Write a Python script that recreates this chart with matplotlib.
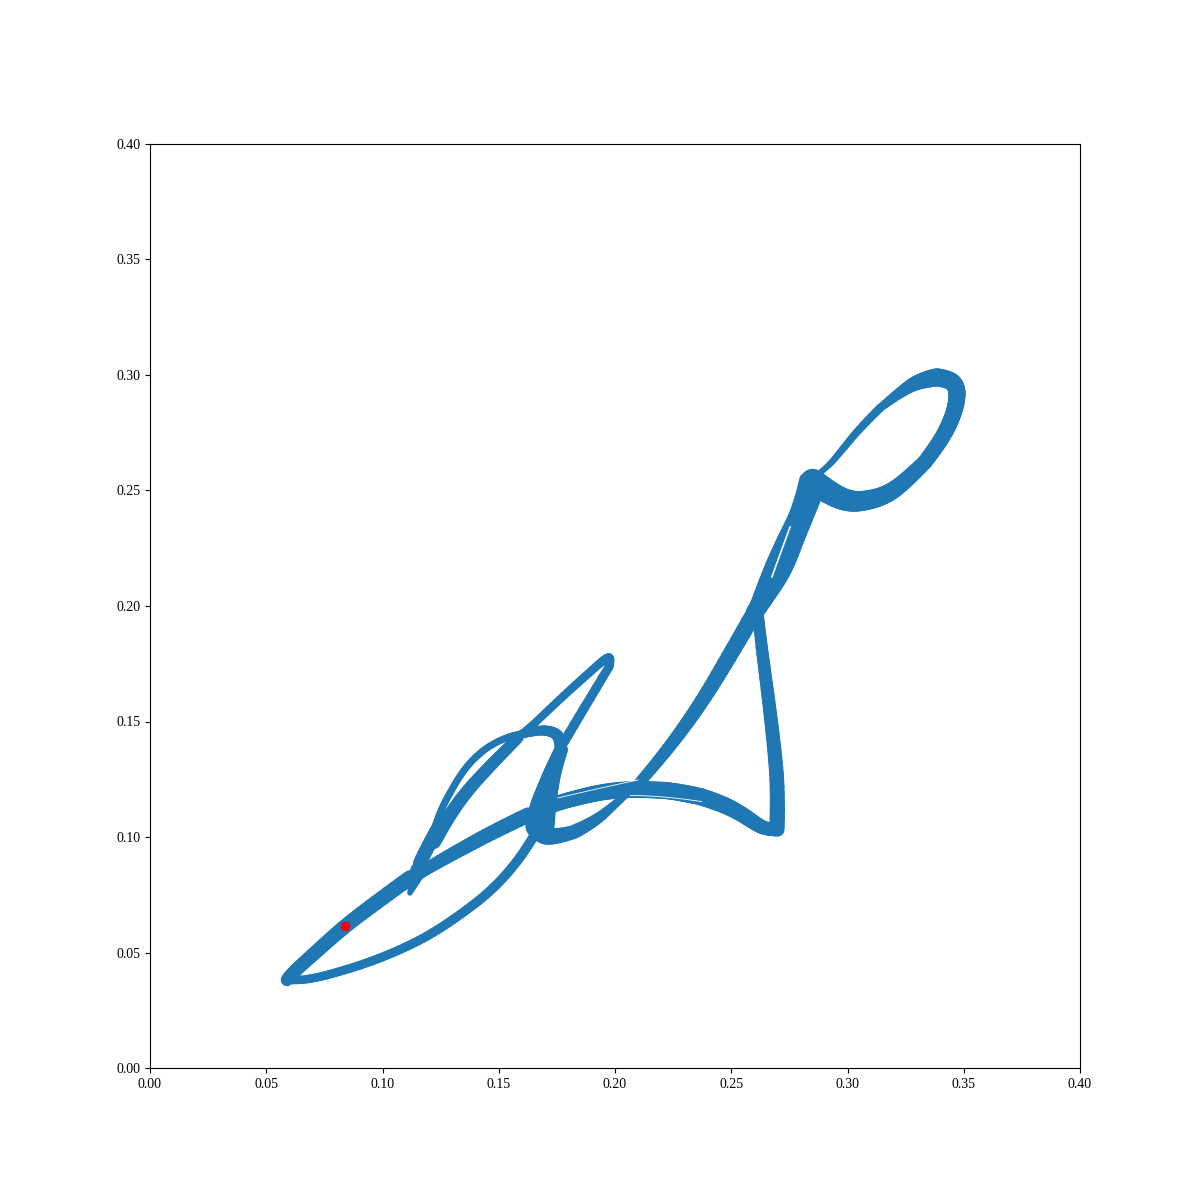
import numpy as np
import matplotlib
matplotlib.use('Agg')
import matplotlib.pyplot as plt
from matplotlib.collections import LineCollection
from matplotlib.ticker import MultipleLocator

plt.rcParams['font.family'] = ['Liberation Serif', 'DejaVu Serif']
plt.rcParams['font.size'] = 10

# traced strands of the orbit
low_x = [0.1118, 0.0981, 0.0839, 0.0723, 0.0637, 0.0598, 0.0589]
low_y = [0.0823, 0.0723, 0.0615, 0.0511, 0.0433, 0.0394, 0.0381]
under_x = [0.0589, 0.0645, 0.0731, 0.0839, 0.0946, 0.1075, 0.1204, 0.1333, 0.1462, 0.1570, 0.1656, 0.1690]
under_y = [0.0381, 0.0379, 0.0394, 0.0424, 0.0459, 0.0511, 0.0576, 0.0662, 0.0762, 0.0879, 0.1009, 0.1070]
mid_x = [0.1626, 0.1475, 0.1333, 0.1217, 0.1148, 0.1118]
mid_y = [0.1095, 0.1022, 0.0944, 0.0879, 0.0835, 0.0815]
cusp_x = [0.1153, 0.1135, 0.1118]
cusp_y = [0.0857, 0.0805, 0.0758]

base_x = [0.1161, 0.1195, 0.1240]
base_y = [0.0887, 0.0960, 0.1040]
leaf_out_x = [0.1196, 0.1225, 0.1247, 0.1273, 0.1329, 0.1385, 0.1462, 0.1561, 0.1600]
leaf_out_y = [0.0978, 0.1040, 0.1104, 0.1160, 0.1260, 0.1333, 0.1398, 0.1442, 0.1446]
leaf_in_x = [0.1222, 0.1269, 0.1355, 0.1467, 0.1531, 0.1583]
leaf_in_y = [0.0978, 0.1065, 0.1190, 0.1312, 0.1377, 0.1429]
hook_x = [0.1600, 0.1673, 0.1738, 0.1765, 0.1768]
hook_y = [0.1446, 0.1465, 0.1455, 0.1425, 0.1377]
drop_x = [0.1768, 0.1738, 0.1708, 0.1686, 0.1677]
drop_y = [0.1377, 0.1303, 0.1203, 0.1117, 0.1050]

spike_up_x = [0.1610, 0.1640, 0.1763, 0.1892, 0.1961, 0.1983, 0.1974]
spike_up_y = [0.1455, 0.1478, 0.1597, 0.1714, 0.1775, 0.1778, 0.1736]
spike_down_x = [0.1974, 0.1862, 0.1780]
spike_down_y = [0.1736, 0.1550, 0.1410]

arc_x = [0.1680, 0.1751, 0.1849, 0.1935, 0.2043, 0.2151, 0.2258, 0.2366]
arc_y = [0.1120, 0.1147, 0.1173, 0.1193, 0.1206, 0.1205, 0.1199, 0.1175]
fall_x = [0.2366, 0.2452, 0.2538, 0.2602, 0.2645, 0.2700]
fall_y = [0.1175, 0.1148, 0.1104, 0.1060, 0.1035, 0.1030]
blob_x = [0.1660, 0.1670, 0.1730, 0.1819]
blob_y = [0.1085, 0.1020, 0.0995, 0.1020]
lobe_x = [0.1819, 0.1905, 0.2013, 0.2108]
lobe_y = [0.1020, 0.1060, 0.1152, 0.1238]
spine_x = [0.2697, 0.2701, 0.2684, 0.2658, 0.2632, 0.2615]
spine_y = [0.1040, 0.1203, 0.1398, 0.1615, 0.1810, 0.1961]

diag_x = [0.2108, 0.2172, 0.2280, 0.2387, 0.2495, 0.2602]
diag_y = [0.1238, 0.1312, 0.1450, 0.1606, 0.1788, 0.1974]
right_x = [0.2602, 0.2667, 0.2727, 0.2785, 0.2847]
right_y = [0.1974, 0.2069, 0.2169, 0.2329, 0.2480]
left_x = [0.2589, 0.2645, 0.2710, 0.2790, 0.2817]
left_y = [0.1974, 0.2126, 0.2273, 0.2429, 0.2550]

bottom_x = [0.2850, 0.2903, 0.2981, 0.3054, 0.3161, 0.3247, 0.3333]
bottom_y = [0.2540, 0.2502, 0.2459, 0.2450, 0.2476, 0.2537, 0.2623]
side_x = [0.3333, 0.3395, 0.3445, 0.3470, 0.3472, 0.3440, 0.3385]
side_y = [0.2623, 0.2705, 0.2800, 0.2880, 0.2945, 0.2982, 0.2990]
top_x = [0.3385, 0.3312, 0.3226, 0.3140]
top_y = [0.2990, 0.2978, 0.2926, 0.2857]
back_x = [0.3140, 0.3054, 0.2976, 0.2916, 0.2860]
back_y = [0.2857, 0.2771, 0.2675, 0.2602, 0.2560]

# hairline gaps between laps
gap_top_x = [0.1755, 0.1935, 0.2099]
gap_top_y = [0.1169, 0.1212, 0.1247]
gap_low_x = [0.2065, 0.2206, 0.2374]
gap_low_y = [0.1180, 0.1179, 0.1153]
gap_strand_x = [0.2675, 0.2712, 0.2753]
gap_strand_y = [0.2126, 0.2230, 0.2342]

start_x = [0.0839]
start_y = [0.0615]

# strand, width at its start and end (points)
strands = [
    (low_x, low_y, 11, 9),
    (under_x, under_y, 6, 7),
    (mid_x, mid_y, 11, 8),
    (cusp_x, cusp_y, 11, 4),
    (base_x, base_y, 10, 10),
    (leaf_out_x, leaf_out_y, 5, 5),
    (leaf_in_x, leaf_in_y, 10, 8),
    (hook_x, hook_y, 6.7, 9),
    (drop_x, drop_y, 10, 21),
    (spike_up_x, spike_up_y, 5.5, 6.5),
    (spike_down_x, spike_down_y, 6.5, 7),
    (arc_x, arc_y, 11, 12.5),
    (fall_x, fall_y, 12.5, 9.5),
    (blob_x, blob_y, 16, 10),
    (lobe_x, lobe_y, 10, 4),
    (spine_x, spine_y, 11, 8.5),
    (diag_x, diag_y, 8, 12),
    (right_x, right_y, 13, 15),
    (left_x, left_y, 7, 8),
    (bottom_x, bottom_y, 18, 11),
    (side_x, side_y, 11, 13),
    (top_x, top_y, 13, 6),
    (back_x, back_y, 6, 4),
]
gaps = [(gap_top_x, gap_top_y, 0.6), (gap_low_x, gap_low_y, 0.6), (gap_strand_x, gap_strand_y, 1.2)]

# chained quadratic beziers through segment midpoints, in short pieces so the
# line width can taper without visible steps
ts = np.linspace(0, 1, 9)[:, None]


def smooth(xs, ys):
    pts = np.column_stack([xs, ys])
    if len(pts) == 2:
        return pts
    mids = (pts[:-1] + pts[1:]) / 2
    knots = [pts[0]]
    for i in range(1, len(pts) - 1):
        a = pts[0] if i == 1 else mids[i - 1]
        b = pts[-1] if i == len(pts) - 2 else mids[i]
        curve = (1 - ts) ** 2 * a + 2 * (1 - ts) * ts * pts[i] + ts ** 2 * b
        knots.extend(curve[1:])
    return np.array(knots)


fig, ax = plt.subplots(figsize=(12, 12), dpi=100)

for xs, ys, w0, w1 in strands:
    knots = smooth(xs, ys)
    segs = np.stack([knots[:-1], knots[1:]], axis=1)
    lc = LineCollection(segs, colors='#1f77b4', linewidths=np.linspace(w0, w1, len(segs)),
                        capstyle='round', joinstyle='round')
    ax.add_collection(lc)

for xs, ys, w in gaps:
    knots = smooth(xs, ys)
    ax.plot(knots[:, 0], knots[:, 1], color='white', lw=w, zorder=3)

ax.plot(start_x, start_y, 'o', color='red', markersize=6, zorder=5)

ax.set_xlim(0, 0.4)
ax.set_ylim(0, 0.4)
ax.xaxis.set_major_locator(MultipleLocator(0.05))
ax.yaxis.set_major_locator(MultipleLocator(0.05))

plt.savefig('out.png', dpi=100)
